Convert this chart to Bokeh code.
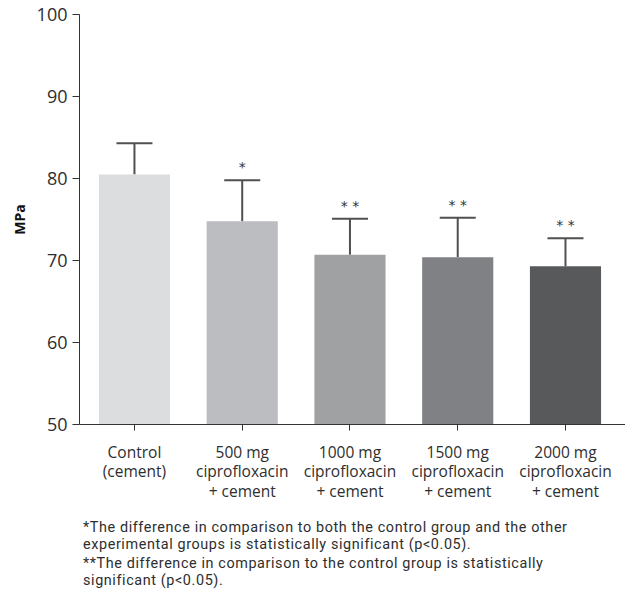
from bokeh.plotting import figure
from bokeh.models import Range1d, FixedTicker, Whisker, ColumnDataSource, TeeHead, Div
from bokeh.layouts import column
from bokeh.embed import file_html
from bokeh.resources import INLINE
from bokeh.core.properties import value

categories = ["Control\n(cement)",
              "500 mg\nciprofloxacin\n+ cement",
              "1000 mg\nciprofloxacin\n+ cement",
              "1500 mg\nciprofloxacin\n+ cement",
              "2000 mg\nciprofloxacin\n+ cement"]
means = [80.5, 74.8, 70.7, 70.4, 69.3]
sds = [3.8, 5.0, 4.4, 4.8, 3.4]
stars = ["", "*", "* *", "* *", "* *"]
colors = ["#dcdddf", "#bcbdc0", "#a0a1a3", "#808184", "#58595b"]
y_ticks = [50, 60, 70, 80, 90, 100]
footnotes = [["*The difference in comparison to both the control group and the other",
              "experimental groups is statistically significant (p<0.05)."],
             ["**The difference in comparison to the control group is statistically",
              "significant (p<0.05)."]]

FONT = "Open Sans"
NOTE_FONT = "Roboto"
TXT = "#2e2e2e"

xs = list(range(1, len(categories) + 1))
src = ColumnDataSource(dict(x=xs, top=means, upper=[m + s for m, s in zip(means, sds)],
                            color=colors, star=stars))

p = figure(width=625, height=505, output_backend="svg", toolbar_location=None,
           x_range=Range1d(0.49, 5.557), y_range=Range1d(50, 100),
           min_border_left=79, min_border_right=0, min_border_top=14, min_border_bottom=81)
p.outline_line_color = None
p.xgrid.visible = False
p.ygrid.visible = False

p.vbar(x="x", top="top", bottom=50, width=0.66, color="color", line_color=None, source=src)
p.add_layout(Whisker(base="x", lower="top", upper="upper", source=src,
                     line_color="#505050", line_width=2, lower_head=None,
                     upper_head=TeeHead(size=36, line_color="#505050", line_width=2)))
p.text(x="x", y="upper", text="star", source=src, text_align="center",
       text_baseline="middle", y_offset=-13, text_font=value("DejaVu Sans"),
       text_font_size="14px", text_color="#333333")

# axes
p.xaxis.ticker = FixedTicker(ticks=xs)
p.xaxis.major_label_overrides = {x: c for x, c in zip(xs, categories)}
p.xaxis.minor_tick_line_color = None
p.xaxis.major_tick_out = 6
p.xaxis.major_tick_in = 0
p.xaxis.axis_line_color = "#333333"
p.xaxis.major_tick_line_color = "#333333"
p.xaxis.major_label_text_font = FONT
p.xaxis.major_label_text_font_size = "15.5px"
p.xaxis.major_label_text_color = TXT
p.xaxis.major_label_standoff = 10
p.xaxis.major_label_text_line_height = 0.9

p.yaxis.ticker = FixedTicker(ticks=y_ticks)
p.yaxis.minor_tick_line_color = None
p.yaxis.major_tick_out = 7
p.yaxis.major_tick_in = 0
p.yaxis.axis_line_color = "#333333"
p.yaxis.major_tick_line_color = "#333333"
p.yaxis.major_label_text_font = FONT
p.yaxis.major_label_text_font_size = "18px"
p.yaxis.major_label_text_color = TXT
p.yaxis.major_label_standoff = 5
p.yaxis.axis_label = "MPa"
p.yaxis.axis_label_text_font = FONT
p.yaxis.axis_label_text_font_style = "bold"
p.yaxis.axis_label_text_font_size = "14px"
p.yaxis.axis_label_text_color = "#111111"
p.yaxis.axis_label_standoff = 5

paras = "".join(
    "<div style='margin:0 0 2px 0'>" + "".join(f"<div>{ln}</div>" for ln in lines) + "</div>"
    for lines in footnotes)
notes = Div(text=(f"<div style=\"font-family:'{NOTE_FONT}';font-size:14.4px;line-height:17px;"
                  "letter-spacing:0.6px;"
                  f"color:{TXT};padding:14px 0 0 83px;white-space:nowrap\">" + paras + "</div>"),
            width=625, height=86, margin=0)

open("out.html", "w").write(file_html(column(p, notes, spacing=0), INLINE))
